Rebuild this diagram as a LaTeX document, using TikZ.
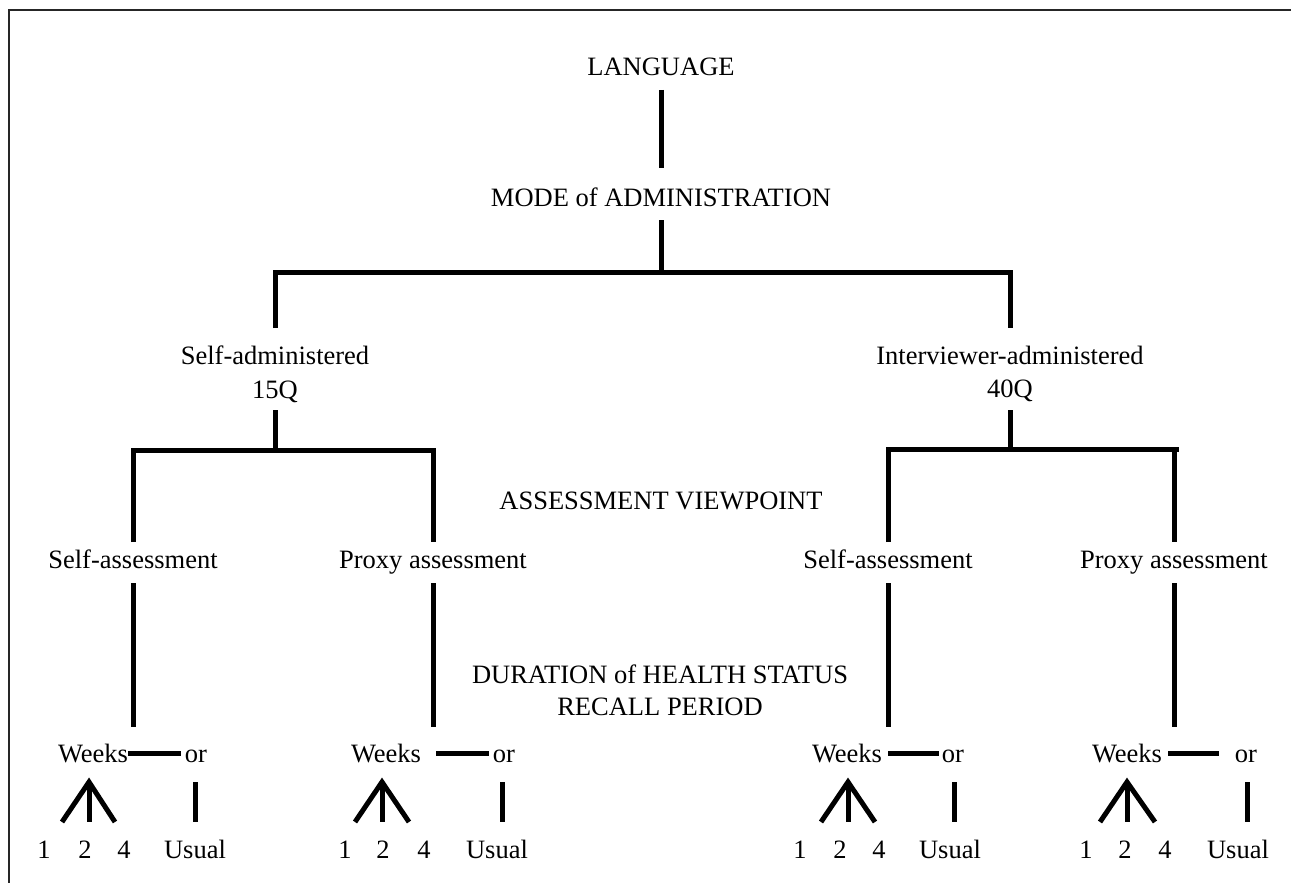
\documentclass[tikz,border=0pt]{standalone}
\usepackage{fontspec}
\setmainfont{Liberation Serif}
\usetikzlibrary{calc}
\begin{document}
\begin{tikzpicture}[x=1pt,y=-1pt,
  lbl/.style={anchor=base,inner sep=0pt,font=\fontsize{26.5}{33}\selectfont},
  ln/.style={line width=5pt,line join=miter},
  frameline/.style={line width=2.5pt,draw=black!85}]
\useasboundingbox (0,0) rectangle (1291,883);
\draw[frameline] (9,883) -- (9,10) -- (1291,10);

% texts
\node[lbl] (lang) at (661,76) {LANGUAGE};
\node[lbl] (mode) at (661,206) {MODE of ADMINISTRATION};
\node[lbl] (sadm) at (275,364) {Self-administered};
\node[lbl] (q15)  at (275,398) {15Q};
\node[lbl] (iadm) at (1010,364) {Interviewer-administered};
\node[lbl] (q40)  at (1010,397) {40Q};
\node[lbl] (view) at (661,509) {ASSESSMENT VIEWPOINT};
\node[lbl] (sa1) at (133,568) {Self-assessment};
\node[lbl] (pa1) at (433,568) {Proxy assessment};
\node[lbl] (sa2) at (888,568) {Self-assessment};
\node[lbl] (pa2) at (1174,568) {Proxy assessment};
\node[lbl] (dur) at (660,683) {DURATION of HEALTH STATUS};
\node[lbl] (rec) at (660,715) {RECALL PERIOD};

\node[lbl] (w1) at (93,762) {Weeks};
\node[lbl] (w2) at (386,762) {Weeks};
\node[lbl] (w3) at (847,762) {Weeks};
\node[lbl] (w4) at (1127,762) {Weeks};
\node[lbl] (o1) at (196,762) {or};
\node[lbl] (o2) at (504,762) {or};
\node[lbl] (o3) at (953,762) {or};
\node[lbl] (o4) at (1246,762) {or};

\node[lbl] (n11) at (44,858) {1};
\node[lbl] (n12) at (85,858) {2};
\node[lbl] (n14) at (124,858) {4};
\node[lbl] (u1)  at (195,858) {Usual};
\node[lbl] (n21) at (345,858) {1};
\node[lbl] (n22) at (383,858) {2};
\node[lbl] (n24) at (424,858) {4};
\node[lbl] (u2)  at (497,858) {Usual};
\node[lbl] (n31) at (800,858) {1};
\node[lbl] (n32) at (840,858) {2};
\node[lbl] (n34) at (879,858) {4};
\node[lbl] (u3)  at (950,858) {Usual};
\node[lbl] (n41) at (1086,858) {1};
\node[lbl] (n42) at (1125,858) {2};
\node[lbl] (n44) at (1165,858) {4};
\node[lbl] (u4)  at (1238,858) {Usual};

% upper tree
\coordinate (top) at (661,272);
\draw[ln] ($(lang.base)+(0,14)$) -- ($(mode.base)+(0,-38)$);
\draw[ln] ($(mode.base)+(0,14)$) -- (top);
\draw[ln] ($(sadm.base)+(0,-36)$) -- (sadm.base |- top) -- (iadm.base |- top) -- ($(iadm.base)+(0,-36)$);

\coordinate (jl) at (275,450);
\coordinate (jr) at (1010,449);
\draw[ln] ($(q15.base)+(0,12)$) -- (jl);
\draw[ln] ($(q40.base)+(0,13)$) -- (jr);
\draw[ln] ($(sa1.base)+(0,-26)$) -- (sa1.base |- jl) -- (pa1.base |- jl) -- ($(pa1.base)+(0,-26)$);
\draw[ln] ($(sa2.base)+(0,-26)$) -- (sa2.base |- jr) -- ($(pa2.base |- jr)+(5,0)$);
\draw[ln] (pa2.base |- jr) -- ($(pa2.base)+(0,-26)$);

% lower verticals
\draw[ln] ($(sa1.base)+(0,15)$) -- ($(sa1.base |- w1.base)+(0,-35)$);
\draw[ln] ($(pa1.base)+(0,15)$) -- ($(pa1.base |- w2.base)+(0,-35)$);
\draw[ln] ($(sa2.base)+(0,15)$) -- ($(sa2.base |- w3.base)+(0,-35)$);
\draw[ln] ($(pa2.base)+(0,15)$) -- ($(pa2.base |- w4.base)+(0,-35)$);

% Weeks -- or
\draw[ln] ($(w1.base)+(35,-9)$) -- ($(o1.base)+(-15,-9)$);
\draw[ln] ($(w2.base)+(50,-9)$) -- ($(o2.base)+(-15,-9)$);
\draw[ln] ($(w3.base)+(41,-9)$) -- ($(o3.base)+(-14,-9)$);
\draw[ln] ($(w4.base)+(41,-9)$) -- ($(o4.base)+(-27,-9)$);

% fans
\coordinate (a1) at ($(w1.base)+(-4,20)$);
\draw[ln] ($(n11.base)+(18,-36)$) -- (a1) -- ($(n14.base)+(-9,-36)$);
\draw[ln] (a1) -- ($(n12.base)+(4,-36)$);
\coordinate (a2) at ($(w2.base)+(-4,20)$);
\draw[ln] ($(n21.base)+(10,-36)$) -- (a2) -- ($(n24.base)+(-15,-36)$);
\draw[ln] (a2) -- ($(n22.base)+(-1,-36)$);
\coordinate (a3) at ($(w3.base)+(1,20)$);
\draw[ln] ($(n31.base)+(21,-36)$) -- (a3) -- ($(n34.base)+(-4,-36)$);
\draw[ln] (a3) -- ($(n32.base)+(8,-36)$);
\coordinate (a4) at ($(w4.base)+(0,20)$);
\draw[ln] ($(n41.base)+(14,-36)$) -- (a4) -- ($(n44.base)+(-10,-36)$);
\draw[ln] (a4) -- ($(n42.base)+(2,-36)$);

% or -- Usual
\draw[ln] ($(o1.base)+(-1,20)$) -- ($(u1.base)+(0,-36)$);
\draw[ln] ($(o2.base)+(-2,20)$) -- ($(u2.base)+(5,-36)$);
\draw[ln] ($(o3.base)+(1,20)$) -- ($(u3.base)+(4,-36)$);
\draw[ln] ($(o4.base)+(1,20)$) -- ($(u4.base)+(9,-36)$);
\end{tikzpicture}
\end{document}
